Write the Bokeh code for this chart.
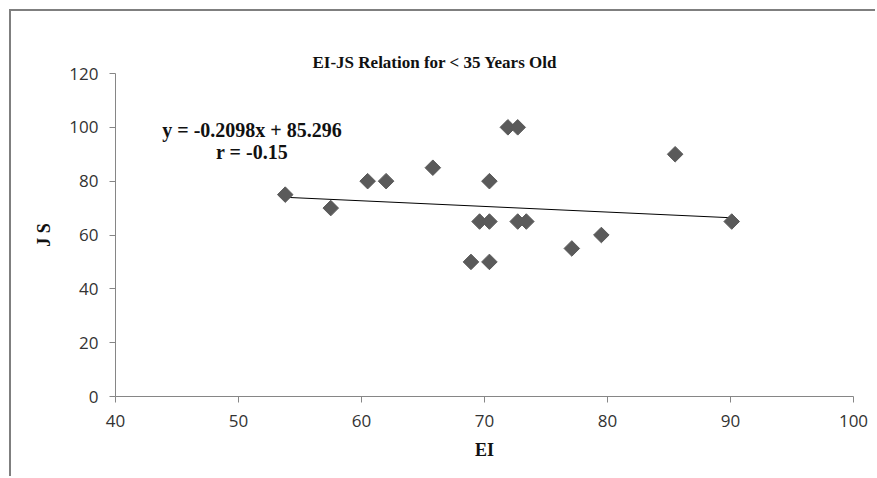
from bokeh.plotting import figure
from bokeh.models import Label, FixedTicker, Range1d, ColumnDataSource
from bokeh.embed import file_html
from bokeh.resources import INLINE
import numpy as np

# Data
ei = [53.8, 57.5, 60.5, 62.0, 65.8, 68.9, 70.4, 69.6, 70.4, 70.4,
      71.9, 72.7, 72.7, 73.4, 77.1, 79.5, 85.5, 90.1]
js = [75, 70, 80, 80, 85, 50, 50, 65, 65, 80,
      100, 100, 65, 65, 55, 60, 90, 65]
slope = -0.2098
intercept = 85.296
r_value = -0.15
x_ticks = [40, 50, 60, 70, 80, 90, 100]
y_ticks = [0, 20, 40, 60, 80, 100, 120]
title_text = "EI-JS  Relation for < 35 Years Old"
x_label = "EI"
y_label = "J S"

SERIF = "Liberation Serif"
TICKFONT = "Open Sans"
AXIS_COLOR = "#868686"

p = figure(width=866, height=467, output_backend="svg", toolbar_location=None,
           x_range=Range1d(40, 100), y_range=Range1d(0, 120),
           min_border_left=104, min_border_right=24, min_border_top=62,
           min_border_bottom=82)
p.styles = {"margin-left": "9px", "margin-top": "9px",
            "border-left": "2px solid #7f7f7f", "border-top": "2px solid #7f7f7f",
            "border-right": "0px none", "border-bottom": "0px none"}
p.background_fill_color = "white"
p.border_fill_color = "white"
p.outline_line_color = None
p.xgrid.visible = False
p.ygrid.visible = False

p.title.text = title_text
p.title.align = "left"
p.title.offset = 197
p.title.standoff = 4
p.title.text_font = SERIF
p.title.text_font_style = "bold"
p.title.text_font_size = "17px"
p.title.text_color = "#111111"

for ax, ticks in ((p.xaxis[0], x_ticks), (p.yaxis[0], y_ticks)):
    ax.ticker = FixedTicker(ticks=ticks)
    ax.axis_line_color = AXIS_COLOR
    ax.major_tick_line_color = AXIS_COLOR
    ax.major_tick_out = 6
    ax.major_tick_in = 0
    ax.minor_tick_line_color = None
    ax.major_label_text_font = TICKFONT
    ax.major_label_text_font_size = "17px"
    ax.major_label_text_color = "#333333"
    ax.axis_label_text_font = SERIF
    ax.axis_label_text_font_style = "bold"
    ax.axis_label_text_font_size = "18px"
    ax.axis_label_text_color = "#111111"

p.xaxis[0].axis_label = x_label
p.yaxis[0].axis_label = y_label
p.xaxis[0].major_label_standoff = 12
p.yaxis[0].major_label_standoff = 11
p.xaxis[0].axis_label_standoff = 10
p.yaxis[0].axis_label_standoff = 12

# trend line over the data range
tx = np.array([min(ei), max(ei)])
ty = slope * tx + intercept
p.line(tx, ty, line_color="black", line_width=1)

src = ColumnDataSource(dict(x=ei, y=js))
p.scatter("x", "y", source=src, marker="square", size=11, angle=np.pi / 4,
          fill_color="#5a5a5a", line_color="#5a5a5a")

p.add_layout(Label(x=51.1, y=99.1, text=f"y = {slope}x + {intercept}",
                   text_align="center", text_baseline="middle", text_font=SERIF,
                   text_font_style="bold", text_font_size="20px", text_color="#111111"))
p.add_layout(Label(x=51.1, y=90.8, text=f"r = {r_value}",
                   text_align="center", text_baseline="middle", text_font=SERIF,
                   text_font_style="bold", text_font_size="20px", text_color="#111111"))

open("out.html", "w").write(file_html(p, INLINE))
